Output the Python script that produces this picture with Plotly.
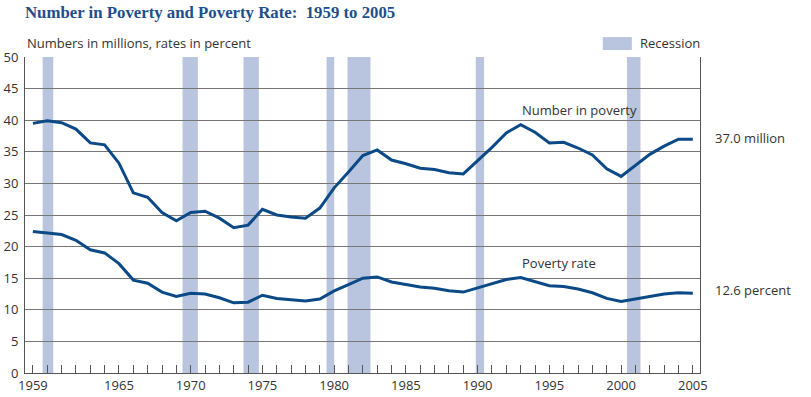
import plotly.graph_objects as go

years = list(range(1959, 2006))
number_in_poverty = [39.5, 39.9, 39.6, 38.6, 36.4, 36.1, 33.2, 28.5, 27.8, 25.4,
                     24.1, 25.4, 25.6, 24.5, 23.0, 23.4, 25.9, 25.0, 24.7, 24.5,
                     26.1, 29.3, 31.8, 34.4, 35.3, 33.7, 33.1, 32.4, 32.2, 31.7,
                     31.5, 33.6, 35.7, 38.0, 39.3, 38.1, 36.4, 36.5, 35.6, 34.5,
                     32.3, 31.1, 32.9, 34.6, 35.9, 37.0, 37.0]
poverty_rate = [22.4, 22.2, 21.9, 21.0, 19.5, 19.0, 17.3, 14.7, 14.2, 12.8,
                12.1, 12.6, 12.5, 11.9, 11.1, 11.2, 12.3, 11.8, 11.6, 11.4,
                11.7, 13.0, 14.0, 15.0, 15.2, 14.4, 14.0, 13.6, 13.4, 13.0,
                12.8, 13.5, 14.2, 14.8, 15.1, 14.5, 13.8, 13.7, 13.3, 12.7,
                11.8, 11.3, 11.7, 12.1, 12.5, 12.7, 12.6]
recession_start = [1959.68, 1969.43, 1973.68, 1979.47, 1980.93, 1989.87, 2000.41]
recession_end = [1960.42, 1970.50, 1974.75, 1980.00, 1982.53, 1990.45, 2001.35]
x_tick_vals = [1959, 1965, 1970, 1975, 1980, 1985, 1990, 1995, 2000, 2005]
x_tick_text = ["1959", "1965", "1970", "1975", "1980", "1985", "1990", "1995", "2000", "2005"]

LINE = "#0b4a86"
BAND = "#b9c4de"
TXT = "#333333"
FONT = "Open Sans"

fig = go.Figure()
fig.add_trace(go.Scatter(x=years, y=number_in_poverty, mode="lines",
                         line=dict(color=LINE, width=3), showlegend=False))
fig.add_trace(go.Scatter(x=years, y=poverty_rate, mode="lines",
                         line=dict(color=LINE, width=3), showlegend=False))

shapes = []
for s, e in zip(recession_start, recession_end):
    shapes.append(dict(type="rect", xref="x", yref="y", x0=s, x1=e, y0=0, y1=50,
                       fillcolor=BAND, line=dict(width=0), layer="below"))
# legend swatch
shapes.append(dict(type="rect", xref="paper", yref="paper", x0=0.856, x1=0.899,
                   y0=1.022, y1=1.063, fillcolor=BAND, line=dict(width=0)))

annotations = [
    dict(xref="paper", yref="paper", x=-0.003, y=1.142, xanchor="left", yanchor="middle",
         text="<b>Number in Poverty and Poverty Rate:  1959 to 2005</b>", showarrow=False,
         font=dict(family="Liberation Serif", size=16.8, color="#1d4f8c")),
    dict(xref="paper", yref="paper", x=0.0, y=1.043, xanchor="left", yanchor="middle",
         text="Numbers in millions, rates in percent", showarrow=False,
         font=dict(family=FONT, size=13, color=TXT)),
    dict(xref="paper", yref="paper", x=0.908, y=1.043, xanchor="left", yanchor="middle",
         text="Recession", showarrow=False, font=dict(family=FONT, size=13, color=TXT)),
    dict(xref="x", yref="y", x=1992.94, y=41.6, xanchor="left", yanchor="middle",
         text="Number in poverty", showarrow=False, font=dict(family=FONT, size=13, color=TXT)),
    dict(xref="x", yref="y", x=1992.94, y=17.4, xanchor="left", yanchor="middle",
         text="Poverty rate", showarrow=False, font=dict(family=FONT, size=13, color=TXT)),
    dict(xref="paper", yref="y", x=1.019, y=37.2, xanchor="left", yanchor="middle",
         text="37.0 million", showarrow=False, font=dict(family=FONT, size=13, color=TXT)),
    dict(xref="paper", yref="y", x=1.019, y=13.1, xanchor="left", yanchor="middle",
         text="12.6 percent", showarrow=False, font=dict(family=FONT, size=13, color=TXT)),
]

fig.update_layout(
    width=811, height=397,
    margin=dict(l=25, r=111, t=57, b=24, autoexpand=False),
    plot_bgcolor="white", paper_bgcolor="white",
    shapes=shapes, annotations=annotations,
    font=dict(family=FONT, size=13, color=TXT),
    xaxis=dict(range=[1958.45, 2005.5], tickvals=x_tick_vals, ticktext=x_tick_text,
               ticks="inside", ticklen=8, tickcolor="#555", tickwidth=1,
               minor=dict(ticks="inside", dtick=1, tick0=1959, ticklen=8, tickcolor="#555", tickwidth=1),
               showgrid=False, showline=True, linecolor="#555", linewidth=1,
               zeroline=False, automargin=False, tickfont=dict(size=13, color=TXT)),
    yaxis=dict(range=[0, 50], dtick=5, tick0=0, showgrid=True, gridcolor="#777", gridwidth=1,
               showline=True, linecolor="#555", linewidth=1, mirror=True, zeroline=False,
               automargin=False, ticks="", tickfont=dict(size=13, color=TXT), ticklabelstandoff=3),
)

fig.write_html("out.html", config={"displayModeBar": False},
               post_script="document.body.style.margin='0';document.body.style.overflow='hidden';")
